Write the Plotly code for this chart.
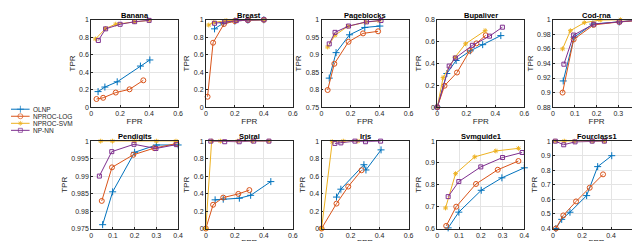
import plotly.graph_objects as go

methods = ["OLNP", "NPROC-LOG", "NPROC-SVM", "NP-NN"]
colors = ["#0072BD", "#D95319", "#EDB120", "#7E2F8E"]
symbols = ["cross-thin-open", "circle-open", "asterisk-open", "square-open"]
msizes = [5, 5, 4, 4]

datasets = ["Banana", "Breast", "Pageblocks", "Bupaliver", "Cod-rna",
            "Pendigits", "Spiral", "Iris", "Svmguide1", "Fourclass1"]

banana = {
    "OLNP": ([0.048, 0.095, 0.18, 0.34, 0.405], [0.178, 0.23, 0.29, 0.47, 0.54]),
    "NPROC-LOG": ([0.037, 0.083, 0.17, 0.265, 0.36], [0.093, 0.107, 0.167, 0.204, 0.307]),
    "NPROC-SVM": ([0.03, 0.10, 0.17, 0.30, 0.40], [0.78, 0.90, 0.95, 0.978, 0.993]),
    "NP-NN": ([0.05, 0.10, 0.20, 0.30, 0.40], [0.763, 0.896, 0.948, 0.978, 0.993]),
}
breast = {
    "OLNP": ([0.06, 0.12, 0.20, 0.29, 0.40], [0.896, 0.96, 0.985, 0.996, 1.0]),
    "NPROC-LOG": ([0.012, 0.05, 0.125, 0.20, 0.29, 0.40], [0.119, 0.737, 0.952, 0.985, 0.996, 1.0]),
    "NPROC-SVM": ([0.02, 0.055, 0.14, 0.20, 0.30, 0.40], [0.94, 0.97, 0.99, 0.996, 1.0, 1.0]),
    "NP-NN": ([0.06, 0.13, 0.21, 0.29, 0.40], [0.96, 0.978, 0.99, 0.996, 1.0]),
}
pageblocks = {
    "OLNP": ([0.053, 0.10, 0.193, 0.298, 0.402], [0.833, 0.906, 0.957, 0.978, 0.982]),
    "NPROC-LOG": ([0.042, 0.088, 0.186, 0.286, 0.39], [0.799, 0.874, 0.937, 0.961, 0.967]),
    "NPROC-SVM": ([0.042, 0.093, 0.181, 0.302, 0.398], [0.922, 0.956, 0.981, 0.993, 0.997]),
    "NP-NN": ([0.053, 0.093, 0.186, 0.31, 0.41], [0.931, 0.964, 0.982, 0.994, 0.998]),
}
bupaliver = {
    "OLNP": ([0.0, 0.066, 0.13, 0.228, 0.313, 0.438], [0.0, 0.308, 0.427, 0.516, 0.572, 0.655]),
    "NPROC-LOG": ([0.0, 0.05, 0.136, 0.224, 0.27, 0.334], [0.0, 0.196, 0.317, 0.516, 0.584, 0.658]),
    "NPROC-SVM": ([0.0, 0.04, 0.122, 0.195, 0.33], [0.0, 0.27, 0.456, 0.58, 0.70]),
    "NP-NN": ([0.0, 0.082, 0.125, 0.242, 0.36, 0.449], [0.0, 0.376, 0.45, 0.566, 0.65, 0.732]),
}
codrna = {
    "OLNP": ([0.047, 0.097, 0.183, 0.305, 0.397], [0.916, 0.976, 0.994, 0.997, 0.9996]),
    "NPROC-LOG": ([0.044, 0.095, 0.187, 0.305, 0.397], [0.90, 0.973, 0.993, 0.997, 0.999]),
    "NPROC-SVM": ([0.044, 0.08, 0.144, 0.217, 0.31, 0.40], [0.96, 0.985, 0.996, 0.9996, 1.0, 1.0]),
    "NP-NN": ([0.05, 0.095, 0.187, 0.305, 0.397], [0.939, 0.979, 0.994, 0.997, 0.9996]),
}
pendigits = {
    "OLNP": ([0.053, 0.099, 0.20, 0.30, 0.40], [0.9761, 0.9855, 0.9968, 0.9989, 0.9989]),
    "NPROC-LOG": ([0.049, 0.096, 0.194, 0.29, 0.392], [0.9829, 0.9925, 0.9961, 0.998, 0.9993]),
    "NPROC-SVM": ([0.044, 0.098, 0.20, 0.30, 0.39], [1.0, 1.0, 1.0, 1.0, 1.0]),
    "NP-NN": ([0.038, 0.095, 0.197, 0.298, 0.392], [0.990, 0.997, 0.9991, 0.9979, 0.999]),
}
spiral = {
    "OLNP": ([0.064, 0.12, 0.231, 0.309, 0.448], [0.328, 0.336, 0.347, 0.38, 0.537]),
    "NPROC-LOG": ([0.0, 0.05, 0.12, 0.224, 0.30], [0.0, 0.272, 0.354, 0.396, 0.44]),
    "NPROC-SVM": ([0.0, 0.04, 0.10, 0.22, 0.32, 0.435], [0.0, 1.0, 1.0, 1.0, 1.0, 1.0]),
    "NP-NN": ([0.034, 0.13, 0.23, 0.33, 0.435], [1.0, 0.993, 0.993, 1.0, 1.0]),
}
iris = {
    "OLNP": ([0.103, 0.133, 0.292, 0.306, 0.41], [0.36, 0.45, 0.73, 0.67, 0.90]),
    "NPROC-LOG": ([0.0, 0.103, 0.184, 0.276], [0.0, 0.285, 0.48, 0.667]),
    "NPROC-SVM": ([0.0, 0.074, 0.15, 0.25], [0.0, 0.993, 1.0, 1.0]),
    "NP-NN": ([0.092, 0.133, 0.23, 0.303, 0.407], [0.974, 0.98, 1.0, 0.993, 1.0]),
}
svmguide1 = {
    "OLNP": ([0.05, 0.099, 0.202, 0.297, 0.40], [0.603, 0.675, 0.775, 0.832, 0.878]),
    "NPROC-LOG": ([0.041, 0.087, 0.178, 0.278, 0.373], [0.612, 0.70, 0.804, 0.869, 0.909]),
    "NPROC-SVM": ([0.038, 0.084, 0.172, 0.269, 0.373], [0.694, 0.851, 0.928, 0.955, 0.967]),
    "NP-NN": ([0.05, 0.099, 0.20, 0.30, 0.39], [0.746, 0.815, 0.882, 0.925, 0.948]),
}
fourclass1 = {
    "OLNP": ([0.02, 0.06, 0.117, 0.232, 0.308, 0.405], [0.40, 0.463, 0.512, 0.626, 0.825, 0.90]),
    "NPROC-LOG": ([0.02, 0.071, 0.159, 0.253, 0.345], [0.40, 0.49, 0.586, 0.68, 0.772]),
    "NPROC-SVM": ([0.014, 0.078, 0.147, 0.27, 0.354], [1.0, 1.0, 1.0, 1.0, 1.0]),
    "NP-NN": ([0.016, 0.074, 0.152, 0.27, 0.354], [1.0, 0.975, 0.995, 1.0, 1.0]),
}
all_data = [banana, breast, pageblocks, bupaliver, codrna,
            pendigits, spiral, iris, svmguide1, fourclass1]

xticks_06 = [0, 0.2, 0.4, 0.6]
xticks_04 = [0, 0.1, 0.2, 0.3, 0.4]
xtick_sets = [xticks_06, xticks_06, xticks_06, xticks_06, xticks_04,
              xticks_04, xticks_06, xticks_06, xticks_04, xticks_06]
ytick_sets = [
    [0, 0.2, 0.4, 0.6, 0.8, 1],
    [0, 0.2, 0.4, 0.6, 0.8, 1],
    [0.75, 0.8, 0.85, 0.9, 0.95, 1],
    [0, 0.2, 0.4, 0.6, 0.8],
    [0.88, 0.9, 0.92, 0.94, 0.96, 0.98, 1],
    [0.975, 0.98, 0.985, 0.99, 0.995, 1],
    [0, 0.2, 0.4, 0.6, 0.8, 1],
    [0, 0.2, 0.4, 0.6, 0.8, 1],
    [0.6, 0.7, 0.8, 0.9, 1],
    [0.4, 0.5, 0.6, 0.7, 0.8, 0.9, 1],
]

def fmt(v):
    s = ("%.3f" % v).rstrip("0").rstrip(".")
    return s if s else "0"

W, H = 640, 241
lefts = [82, 198, 315, 432, 549]
pw = 88
rows = [(8, 98), (133, 223)]
AX = "#262626"
FONT = "Liberation Sans, Arial, sans-serif"

fig = go.Figure()
layout = {}
annotations = []
for i, (name, data) in enumerate(zip(datasets, all_data)):
    r, c = divmod(i, 5)
    k = "" if i == 0 else str(i + 1)
    x0, x1 = lefts[c] / W, (lefts[c] + pw) / W
    ytop, ybot = rows[r]
    y0, y1 = 1 - ybot / H, 1 - ytop / H
    xt = xtick_sets[i]
    yt = ytick_sets[i]
    common = dict(showline=True, mirror=True, linecolor=AX, linewidth=0.8,
                  ticks="inside", ticklen=2, tickcolor=AX, tickwidth=0.6,
                  showgrid=True, gridcolor="#e4e4e4", gridwidth=0.6,
                  zeroline=False, tickfont=dict(size=7, color=AX, family=FONT))
    layout["xaxis" + k] = dict(common, domain=[x0, x1], anchor="y" + k,
                               range=[xt[0], xt[-1]], tickmode="array",
                               tickvals=xt, ticktext=[fmt(v) for v in xt],
                               title=dict(text="FPR", standoff=1,
                                          font=dict(size=8, color=AX, family=FONT)))
    layout["yaxis" + k] = dict(common, domain=[y0, y1], anchor="x" + k,
                               range=[yt[0], yt[-1]], tickmode="array",
                               tickvals=yt, ticktext=[fmt(v) for v in yt],
                               title=dict(text="TPR", standoff=2,
                                          font=dict(size=8, color=AX, family=FONT)))
    annotations.append(dict(text="<b>%s</b>" % name, x=(x0 + x1) / 2, y=y1,
                            xref="paper", yref="paper", xanchor="center",
                            yanchor="bottom", showarrow=False, yshift=-2,
                            font=dict(size=7.5, color="#000000", family=FONT)))
    for j, m in enumerate(methods):
        xs, ys = data[m]
        fig.add_trace(go.Scatter(
            x=xs, y=ys, mode="lines+markers", name=m,
            showlegend=False, xaxis="x" + k, yaxis="y" + k,
            cliponaxis=False,
            line=dict(color=colors[j], width=1),
            marker=dict(symbol=symbols[j], size=msizes[j], color=colors[j],
                        line=dict(color=colors[j], width=1)),
        ))

# compact legend drawn on a hidden helper axis (MATLAB-style tight rows)
leg_top, leg_bot = 96.5, 125.5
layout["xaxis11"] = dict(domain=[1 / W, 20 / W], range=[0, 1], visible=False,
                         anchor="y11", fixedrange=True)
layout["yaxis11"] = dict(domain=[1 - leg_bot / H, 1 - leg_top / H],
                         range=[len(methods) - 0.5, -0.5], visible=False,
                         anchor="x11", fixedrange=True)
for j, m in enumerate(methods):
    fig.add_trace(go.Scatter(
        x=[0, 0.5, 1], y=[j, j, j], mode="lines+markers", showlegend=False,
        xaxis="x11", yaxis="y11", hoverinfo="skip", cliponaxis=False,
        line=dict(color=colors[j], width=1),
        marker=dict(symbol=symbols[j], size=[0, msizes[j], 0], color=colors[j],
                    line=dict(color=colors[j], width=1)),
    ))
    annotations.append(dict(text=m, x=21 / W, y=j, xref="paper", yref="y11",
                            xanchor="left", yanchor="middle", showarrow=False,
                            font=dict(size=6.5, color=AX, family=FONT)))

fig.update_layout(
    **layout,
    annotations=annotations,
    width=W, height=H,
    margin=dict(l=0, r=0, t=0, b=0),
    paper_bgcolor="white", plot_bgcolor="white",
    showlegend=False,
    font=dict(family=FONT, color=AX),
)
fig.write_html("out.html")
